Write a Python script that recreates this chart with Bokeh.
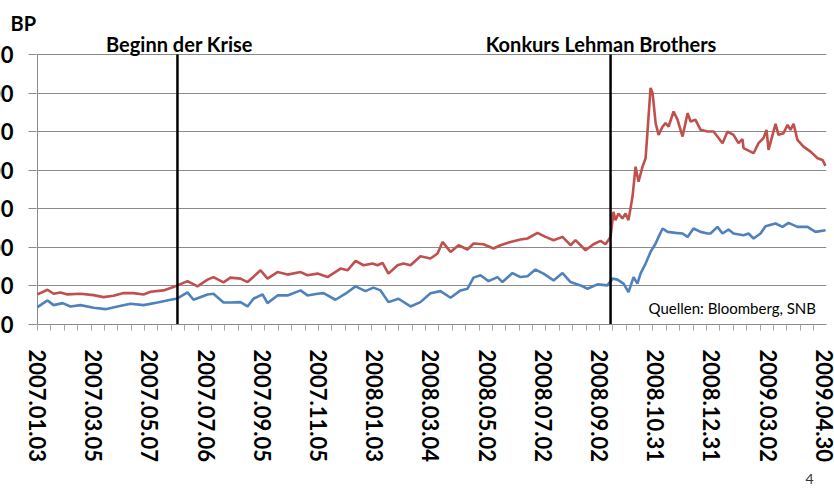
import math
from bokeh.plotting import figure
from bokeh.models import Range1d, FixedTicker, Label, Title
from bokeh.embed import file_html
from bokeh.resources import INLINE

red_day = [0, 7.5, 12.0, 17.2, 22.4, 32.1, 41.9, 49.3, 56.8, 64.3, 71.8, 79.2, 84.5, 94.2,
           101.6, 104.6, 112.1, 119.6, 127.1, 131.5, 139.0, 144.2, 151.7, 157.0, 166.7, 171.9,
           179.4, 186.9, 196.6, 201.8, 209.3, 216.8, 226.5, 231.7, 237.7, 243.7, 250.4, 254.1,
           257.9, 262.3, 269.1, 273.5, 278.8, 286.2, 293.7, 299.0, 302.7, 308.7, 314.7, 321.4,
           325.9, 333.3, 340.8, 346.0, 353.5, 361.0, 366.2, 373.7, 379.7, 385.7, 392.4, 398.4,
           402.1, 409.6, 415.5, 420.8, 424.5, 428.3, 430.5, 432.0, 434.2, 437.2, 439.5, 441.7,
           444.7, 447.0, 449.2, 452.2, 454.5, 456.0, 458.2, 459.7, 462.0, 464.2, 467.2, 469.4,
           471.7, 475.4, 478.4, 482.1, 485.9, 488.1, 491.8, 495.6, 500.8, 505.3, 512.0, 515.7,
           520.2, 523.9, 526.9, 527.7, 532.9, 535.2, 538.9, 542.6, 544.9, 546.4, 551.6, 553.8,
           557.6, 560.6, 562.8, 565.1, 568.0, 572.5, 577.8, 583.0, 586.7, 589.0]
red_bp = [39.0, 45.1, 39.9, 41.6, 39.0, 39.9, 38.1, 35.5, 37.3, 40.7, 40.7, 39.0, 42.5, 44.2,
          48.5, 50.7, 56.3, 49.4, 58.2, 61.5, 54.6, 60.8, 59.5, 55.0, 70.3, 59.5,
          68.0, 64.7, 68.0, 63.8, 66.0, 61.5, 72.5, 70.3, 82.4, 76.8, 79.0, 76.8,
          79.8, 66.0, 76.8, 79.0, 76.8, 88.5, 85.5, 92.0, 107.1, 94.1, 102.8, 97.2,
          105.0, 104.1, 98.5, 102.8, 107.1, 110.2, 111.5, 118.8, 113.6, 109.3, 113.6, 102.8,
          109.3, 96.3, 104.1, 108.4, 104.1, 113.6, 146.1, 135.3, 144.0, 137.5, 144.0, 135.3,
          165.6, 204.7, 185.1, 204.7, 215.6, 252.4, 306.7, 300.2, 261.1, 245.9, 256.7, 261.1,
          256.7, 276.2, 265.4, 243.7, 274.1, 263.2, 265.4, 252.4, 250.2, 250.2, 235.1, 250.2,
          245.9, 235.1, 240.3, 228.6, 224.2, 222.1, 235.1, 241.6, 252.4, 226.4, 260.2, 245.9,
          248.1, 258.9, 252.4, 260.2, 239.4, 230.7, 224.2, 215.6, 213.4, 205.6]

blue_day = [0, 7.5, 12.0, 18.7, 24.7, 32.1, 41.9, 50.8, 59.8, 69.5, 79.2, 89.7, 99.4, 104.6,
            112.1, 116.6, 127.1, 131.5, 139.0, 144.2, 151.7, 157.0, 161.4, 168.2, 171.9, 179.4,
            186.9, 196.6, 201.8, 209.3, 213.8, 222.7, 230.2, 237.7, 245.1, 251.1, 256.4, 262.3,
            269.8, 278.8, 286.2, 293.7, 301.2, 308.7, 316.2, 321.4, 325.9, 331.1, 337.1, 343.8,
            347.5, 355.0, 361.0, 366.2, 372.2, 378.2, 385.7, 392.4, 398.4, 405.8, 411.1, 418.5,
            426.0, 429.8, 433.5, 438.0, 441.7, 445.5, 448.4, 450.7, 454.5, 458.2, 462.0, 464.2,
            467.2, 470.9, 476.8, 482.1, 485.9, 490.3, 495.6, 500.8, 503.0, 508.2, 512.0, 516.5,
            520.2, 527.7, 531.4, 535.2, 540.4, 544.1, 551.6, 556.8, 561.3, 568.0, 575.5, 581.5,
            589.0]
blue_bp = [22.5, 31.2, 25.1, 27.7, 23.4, 25.1, 21.7, 19.9, 23.4, 26.9, 25.1, 28.6, 32.1, 33.8,
           41.6, 32.1, 39.0, 39.9, 28.6, 28.6, 29.0, 23.4, 33.4, 39.0, 27.7, 37.7,
           37.7, 44.2, 37.7, 39.9, 40.7, 32.1, 39.9, 49.4, 43.3, 47.8, 44.2, 29.0,
           33.4, 23.4, 29.0, 40.5, 43.3, 34.7, 44.2, 46.4, 60.8, 63.8, 56.3, 61.5,
           55.0, 66.7, 61.5, 62.5, 71.2, 66.0, 57.2, 66.7, 55.0, 50.7, 46.4, 52.0,
           50.7, 59.5, 58.2, 53.0, 42.0, 61.5, 53.0, 66.0, 79.0, 94.1, 105.0, 113.6,
           124.5, 120.1, 118.8, 118.0, 113.6, 124.5, 120.1, 118.0, 118.0, 126.6, 118.0, 123.2,
           118.0, 115.8, 118.0, 111.5, 118.0, 127.5, 131.0, 126.6, 131.8, 126.6, 126.6, 120.1,
           122.3]

y_ticks = [0, 50, 100, 150, 200, 250, 300, 350]
label_days = [0, 42, 84, 126, 168, 210, 252, 294, 336, 378, 420, 462, 504, 546, 588]
label_texts = ["2007.01.03", "2007.03.05", "2007.05.07", "2007.07.06", "2007.09.05",
               "2007.11.05", "2008.01.03", "2008.03.04", "2008.05.02", "2008.07.02",
               "2008.09.02", "2008.10.31", "2008.12.31", "2009.03.02", "2009.04.30"]
minor_tick_days = list(range(0, 590, 10))
event_days = [104.6, 428.3]
event_texts = ["Beginn der Krise", "Konkurs Lehman Brothers"]

FONT = "Lato"
GRID = "#8a8a8a"

# layout (page pixels): grid top 55, axis 324; frame extends up to 35 to hold the event labels
FRAME_TOP, GRID_TOP, AXIS_Y, FRAME_LEFT = 35, 55, 324, 36
y_end = y_ticks[-1] * (AXIS_Y - FRAME_TOP) / (AXIS_Y - GRID_TOP)

p = figure(width=877, height=481, output_backend="svg", toolbar_location=None,
           x_range=Range1d(-0.75, 589.7), y_range=Range1d(0, y_end),
           min_border_left=79, min_border_right=8, min_border_top=24, min_border_bottom=165,
           margin=(8, 0, 0, -43))
p.outline_line_color = None

p.title.text = "BP"
p.title.align = "left"
p.title.offset = -26
p.title.standoff = 0
p.title.text_font = FONT
p.title.text_font_style = "bold"
p.title.text_font_size = "20px"
p.title.text_color = "black"

p.yaxis.ticker = FixedTicker(ticks=y_ticks)
p.yaxis.axis_line_color = None
p.yaxis.major_tick_line_color = GRID
p.yaxis.major_tick_out = 8
p.yaxis.major_tick_in = 0
p.yaxis.minor_tick_line_color = None
p.yaxis.major_label_standoff = 15
p.yaxis.major_label_text_font = FONT
p.yaxis.major_label_text_font_style = "bold"
p.yaxis.major_label_text_font_size = "22px"
p.yaxis.major_label_text_color = "black"

p.xaxis.ticker = FixedTicker(ticks=label_days, minor_ticks=minor_tick_days)
p.xaxis.major_label_overrides = {d: t for d, t in zip(label_days, label_texts)}
p.xaxis.major_label_orientation = -math.pi / 2
p.xaxis.axis_line_color = GRID
p.xaxis.major_tick_line_color = None
p.xaxis.major_tick_out = 0
p.xaxis.major_tick_in = 0
p.xaxis.minor_tick_line_color = "#a6a6a6"
p.xaxis.minor_tick_out = 6
p.xaxis.minor_tick_in = 0
p.xaxis.major_label_standoff = 19
p.xaxis.major_label_text_font = FONT
p.xaxis.major_label_text_font_style = "bold"
p.xaxis.major_label_text_font_size = "22px"
p.xaxis.major_label_text_color = "black"

p.xgrid.grid_line_color = None
p.ygrid.grid_line_color = GRID

# y axis line (only over the gridded part)
p.segment(x0=[0], y0=[y_ticks[0]], x1=[0], y1=[y_ticks[-1]], line_color=GRID, line_width=1)

p.line(blue_day, blue_bp, line_color="#4F81BD", line_width=2.6)
p.line(red_day, red_bp, line_color="#C0504D", line_width=2.6)

# event markers
p.segment(x0=event_days, y0=[y_ticks[0]] * 2, x1=event_days, y1=[y_ticks[-1]] * 2,
          line_color="black", line_width=2.5)

def sx(px):
    return px - FRAME_LEFT
def sy(py):
    return AXIS_Y - py

p.add_layout(Label(x=sx(179), y=sy(43), x_units="screen", y_units="screen", text=event_texts[0],
                   text_align="center", text_baseline="alphabetic", text_font=FONT,
                   text_font_style="bold", text_font_size="20px", text_color="black"))
p.add_layout(Label(x=sx(600.5), y=sy(43), x_units="screen", y_units="screen", text=event_texts[1],
                   text_align="center", text_baseline="alphabetic", text_font=FONT,
                   text_font_style="bold", text_font_size="20px", text_color="black"))
p.add_layout(Label(x=sx(648), y=sy(307), x_units="screen", y_units="screen",
                   text="Quellen: Bloomberg, SNB", text_align="left", text_baseline="alphabetic",
                   text_font=FONT, text_font_size="15px", text_color="black"))

p.add_layout(Title(text="4", align="right", offset=13, standoff=12, text_font=FONT,
                   text_font_style="normal", text_font_size="14px", text_color="#333333"),
             "below")

open("out.html", "w").write(file_html(p, INLINE))
